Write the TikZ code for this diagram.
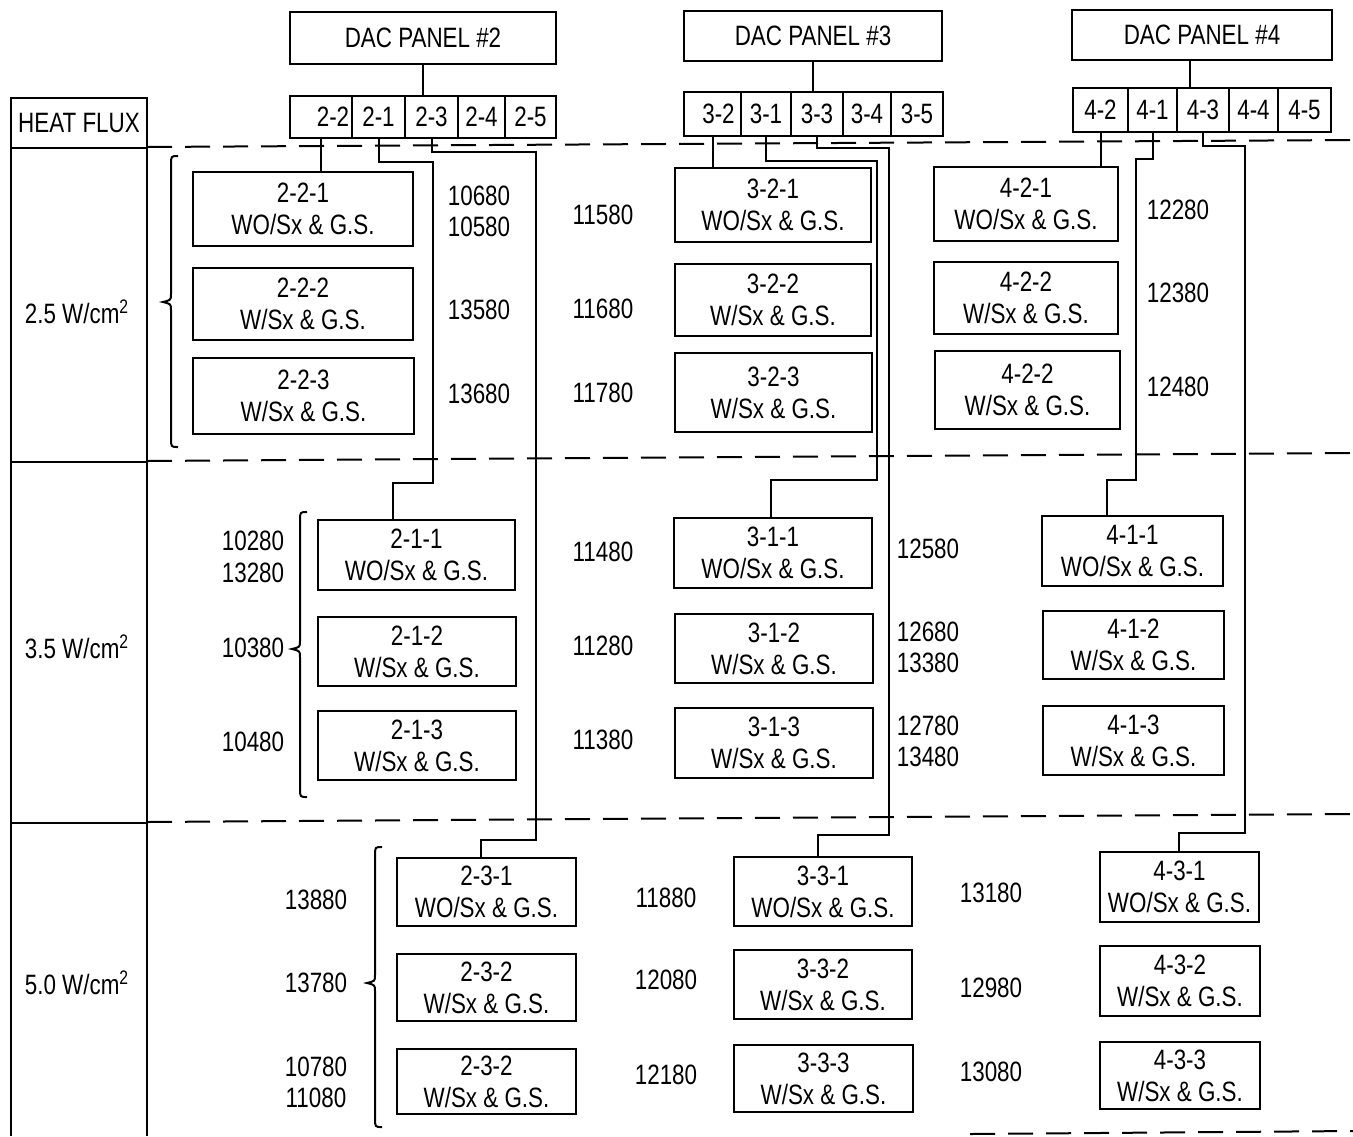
\documentclass[tikz,border=0pt]{standalone}
\usepackage{fontspec}
\setmainfont{Liberation Sans}[FakeStretch=0.8]
\usetikzlibrary{calc}
\newcommand\crlbrace[4]{\draw[wire] (#1+7,#2) .. controls (#1,#2) .. (#1,#2+9) -- (#1,#3-8) .. controls (#1,#3-2) .. (#1-8,#3) .. controls (#1,#3+2) .. (#1,#3+8) -- (#1,#4-9) .. controls (#1,#4) .. (#1+7,#4);}
\newcommand\bx[6]{\node[box, minimum width={(#4-#2)*0.5pt}, minimum height={(#5-#3)*0.5pt}] (#1) at ({(#2+#4)/2},{(#3+#5)/2}) {#6};}
\begin{document}
\begin{tikzpicture}[x=0.5pt,y=-0.5pt,line width=1pt]
\tikzset{
 lbl/.style={font=\fontsize{14}{16}\selectfont},
 box/.style={draw, inner sep=0pt, outer sep=0pt, align=center, lbl},
 num/.style={inner sep=0pt, lbl},
 wire/.style={line width=1pt},
 sepline/.style={line width=1pt, dash pattern=on 12.5pt off 6.5pt},
}
\useasboundingbox (0,0) rectangle (1353,1136);

% separators
\draw[sepline] (147,147) -- (1353,140);
\draw[sepline] (147,461) -- (1353,453);
\draw[sepline] (147,822) -- (1353,814);
\draw[sepline] (970,1134) -- (1353,1131);

% heat flux column
\bx{hf}{11}{98}{147}{148}{HEAT FLUX}
\draw[wire] (hf.south west) -- (11,1136);
\draw[wire] (hf.south east) -- (147,1136);
\draw[wire] (11,462) -- (147,462);
\draw[wire] (11,823) -- (147,823);
\node[lbl] (r25) at (77,312) {2.5 W/cm\textsuperscript{2}};
\node[lbl] (r35) at (77,647) {3.5 W/cm\textsuperscript{2}};
\node[lbl] (r50) at (77,983) {5.0 W/cm\textsuperscript{2}};

% DAC panels
\bx{p2}{290}{12}{556}{64}{DAC PANEL \#2}
\bx{p3}{684}{11}{942}{61}{DAC PANEL \#3}
\bx{p4}{1072}{10}{1332}{60}{DAC PANEL \#4}

% slots
\bx{s22}{290}{96}{352}{138}{\hspace*{12pt}2-2}
\bx{s21}{352}{96}{405}{138}{2-1}
\bx{s23}{405}{96}{458}{138}{2-3}
\bx{s24}{458}{96}{505}{138}{2-4}
\bx{s25}{505}{96}{556}{138}{2-5}

\bx{s32}{684}{92}{741}{136}{\hspace*{6pt}3-2}
\bx{s31}{741}{92}{791}{136}{3-1}
\bx{s33}{791}{92}{843}{136}{3-3}
\bx{s34}{843}{92}{891}{136}{3-4}
\bx{s35}{891}{92}{943}{136}{3-5}

\bx{s42}{1073}{88}{1128}{132}{4-2}
\bx{s41}{1128}{88}{1177}{132}{4-1}
\bx{s43}{1177}{88}{1229}{132}{4-3}
\bx{s44}{1229}{88}{1278}{132}{4-4}
\bx{s45}{1278}{88}{1331}{132}{4-5}

\coordinate (k4) at (1190,0);
\draw[wire] (p2.south) -- (p2.south |- s23.north);
\draw[wire] (p3.south) -- (p3.south |- s33.north);
\draw[wire] (p4.south -| k4) -- (s43.north -| k4);

% boxes panel 2
\bx{b221}{193}{172}{413}{246}{2-2-1\\WO/Sx \& G.S.}
\bx{b222}{193}{268}{413}{340}{2-2-2\\W/Sx \& G.S.}
\bx{b223}{193}{358}{414}{434}{2-2-3\\W/Sx \& G.S.}
\bx{b211}{318}{520}{515}{590}{2-1-1\\WO/Sx \& G.S.}
\bx{b212}{318}{617}{516}{686}{2-1-2\\W/Sx \& G.S.}
\bx{b213}{318}{711}{516}{780}{2-1-3\\W/Sx \& G.S.}
\bx{b231}{397}{858}{576}{926}{2-3-1\\WO/Sx \& G.S.}
\bx{b232}{397}{954}{576}{1021}{2-3-2\\W/Sx \& G.S.}
\bx{b233}{397}{1049}{576}{1114}{2-3-2\\W/Sx \& G.S.}

% boxes panel 3
\bx{b321}{675}{168}{871}{242}{3-2-1\\WO/Sx \& G.S.}
\bx{b322}{675}{264}{871}{336}{3-2-2\\W/Sx \& G.S.}
\bx{b323}{675}{353}{872}{432}{3-2-3\\W/Sx \& G.S.}
\bx{b311}{674}{518}{872}{588}{3-1-1\\WO/Sx \& G.S.}
\bx{b312}{675}{614}{873}{683}{3-1-2\\W/Sx \& G.S.}
\bx{b313}{675}{708}{873}{778}{3-1-3\\W/Sx \& G.S.}
\bx{b331}{734}{857}{912}{926}{3-3-1\\WO/Sx \& G.S.}
\bx{b332}{734}{950}{912}{1019}{3-3-2\\W/Sx \& G.S.}
\bx{b333}{734}{1045}{913}{1112}{3-3-3\\W/Sx \& G.S.}

% boxes panel 4
\bx{b421}{934}{167}{1118}{241}{4-2-1\\WO/Sx \& G.S.}
\bx{b422}{934}{262}{1118}{334}{4-2-2\\W/Sx \& G.S.}
\bx{b423}{935}{351}{1120}{429}{4-2-2\\W/Sx \& G.S.}
\bx{b411}{1042}{516}{1223}{586}{4-1-1\\WO/Sx \& G.S.}
\bx{b412}{1043}{611}{1224}{679}{4-1-2\\W/Sx \& G.S.}
\bx{b413}{1043}{706}{1224}{775}{4-1-3\\W/Sx \& G.S.}
\bx{b431}{1100}{852}{1259}{922}{4-3-1\\WO/Sx \& G.S.}
\bx{b432}{1100}{946}{1260}{1016}{4-3-2\\W/Sx \& G.S.}
\bx{b433}{1100}{1042}{1260}{1109}{4-3-3\\W/Sx \& G.S.}

% connectors
\draw[wire] (s22.south) -- (s22.south |- b221.north);
\draw[wire] (s21.south) |- (433,162) |- (393,483) -- (b211.north -| 393,0);
\draw[wire] (s23.south) |- (536,152) |- (481,840) -- (b231.north -| 481,0);
\draw[wire] (s32.south) -- (s32.south |- b321.north);
\draw[wire] (s31.south) |- (877,161) |- (771,480) -- (b311.north -| 771,0);
\draw[wire] (s33.south) |- (889,148) |- (818,835) -- (b331.north -| 818,0);
\draw[wire] (s42.south) -- (s42.south |- b421.north);
\draw[wire] (s41.south) |- (1136,159) |- (1107,480) -- (b411.north -| 1107,0);
\draw[wire] (s43.south) |- (1245,146) |- (1179,833) -- (b431.north -| 1179,0);

% braces
\crlbrace{171}{156}{302}{447}
\crlbrace{300}{512}{649}{797}
\crlbrace{375}{847}{983}{1127}

% numbers
\node[num] (n1) at (479,196) {10680};
\node[num] (n2) at (479,227) {10580};
\node[num] (n3) at (479,310) {13580};
\node[num] (n4) at (479,394) {13680};
\node[num] (n5) at (603,215) {11580};
\node[num] (n6) at (603,309) {11680};
\node[num] (n7) at (603,393) {11780};
\node[num] (n8) at (1178,210) {12280};
\node[num] (n9) at (1178,293) {12380};
\node[num] (n10) at (1178,387) {12480};
\node[num] (n11) at (253,541) {10280};
\node[num] (n12) at (253,573) {13280};
\node[num] (n13) at (253,648) {10380};
\node[num] (n14) at (253,742) {10480};
\node[num] (n15) at (603,552) {11480};
\node[num] (n16) at (603,646) {11280};
\node[num] (n17) at (603,740) {11380};
\node[num] (n18) at (928,549) {12580};
\node[num] (n19) at (928,632) {12680};
\node[num] (n20) at (928,663) {13380};
\node[num] (n21) at (928,726) {12780};
\node[num] (n22) at (928,757) {13480};
\node[num] (n23) at (316,900) {13880};
\node[num] (n24) at (316,983) {13780};
\node[num] (n25) at (316,1067) {10780};
\node[num] (n26) at (316,1098) {11080};
\node[num] (n27) at (666,898) {11880};
\node[num] (n28) at (666,980) {12080};
\node[num] (n29) at (666,1075) {12180};
\node[num] (n30) at (991,893) {13180};
\node[num] (n31) at (991,988) {12980};
\node[num] (n32) at (991,1072) {13080};
\end{tikzpicture}
\end{document}
